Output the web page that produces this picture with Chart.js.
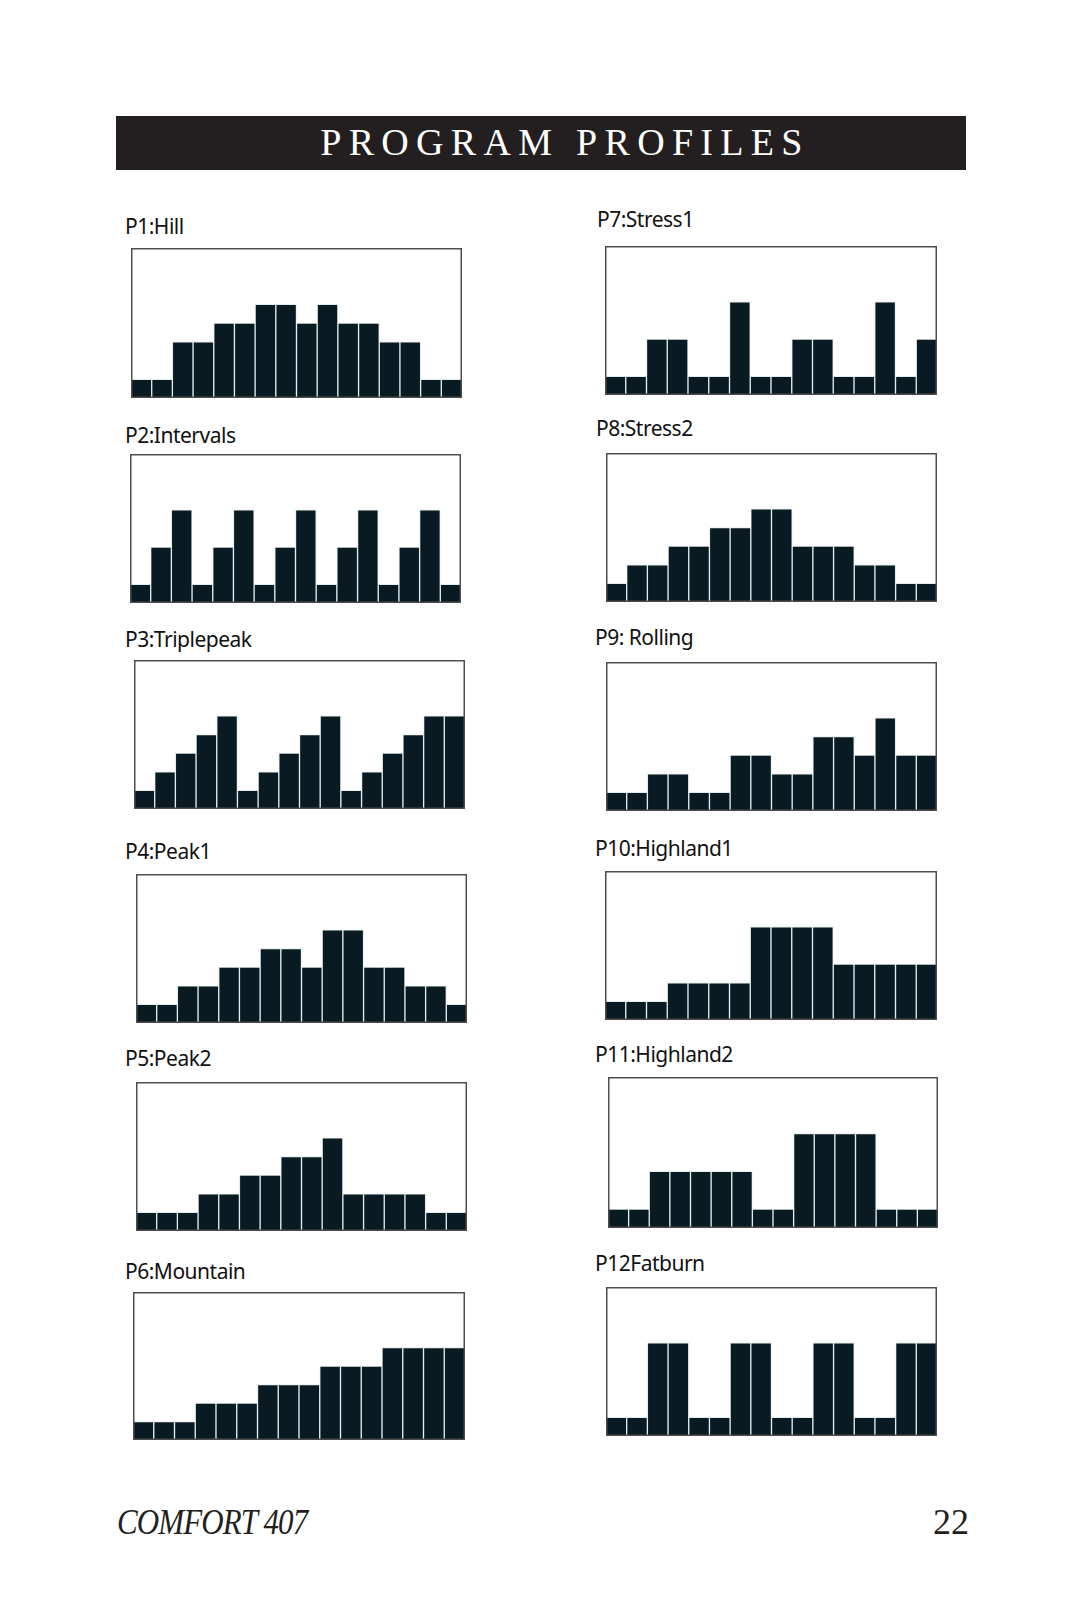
<!DOCTYPE html>
<html>
<head>
<meta charset="utf-8">
<script src="https://cdn.jsdelivr.net/npm/chart.js"></script>
<style>
  body { margin: 0; width: 1080px; height: 1622px; background: #fff; position: relative; overflow: hidden; }
  .banner { position: absolute; left: 116px; top: 116px; width: 850px; height: 54px; background: #231f20; }
  .banner span { position: absolute; left: 0; right: 0; top: 7px; text-align: center; padding-left: 48px;
    font-family: "Liberation Serif", serif; font-size: 38px; letter-spacing: 7.3px; color: #fff; line-height: 38px; }
  .lbl { position: absolute; font-family: "Noto Sans", sans-serif; font-size: 21px; color: #111;
    letter-spacing: -0.5px; line-height: 24px; white-space: nowrap; }
  .box { position: absolute; }
  .foot { position: absolute; top: 1502px; font-family: "Liberation Serif", serif; font-size: 36px; color: #231f20; line-height: 40px; }
</style>
</head>
<body>
<div class="banner"><span>PROGRAM PROFILES</span></div>
<div class="foot" style="left:117px; font-style:italic; letter-spacing:-1px; transform:scaleX(0.86); transform-origin:left top;">COMFORT 407</div>
<div class="foot" style="left:933px;">22</div>
<div id="page"></div>
<script>
// 16 segments per program, levels (frame height = 8 levels)
const segments = ['1','2','3','4','5','6','7','8','9','10','11','12','13','14','15','16']
const yMax = 8

const hill       = [1,1,3,3,4,4,5,5,4,5,4,4,3,3,1,1]
const intervals  = [1,3,5,1,3,5,1,3,5,1,3,5,1,3,5,1]
const triplePeak = [1,2,3,4,5,1,2,3,4,5,1,2,3,4,5,5]
const peak1      = [1,1,2,2,3,3,4,4,3,5,5,3,3,2,2,1]
const peak2      = [1,1,1,2,2,3,3,4,4,5,2,2,2,2,1,1]
const mountain   = [1,1,1,2,2,2,3,3,3,4,4,4,5,5,5,5]
const stress1    = [1,1,3,3,1,1,5,1,1,3,3,1,1,5,1,3]
const stress2    = [1,2,2,3,3,4,4,5,5,3,3,3,2,2,1,1]
const rolling    = [1,1,2,2,1,1,3,3,2,2,4,4,3,5,3,3]
const highland1  = [1,1,1,2,2,2,2,5,5,5,5,3,3,3,3,3]
const highland2  = [1,1,3,3,3,3,3,1,1,5,5,5,5,1,1,1]
const fatburn    = [1,1,5,5,1,1,5,5,1,1,5,5,1,1,5,5]

const programs = [
    { name: 'P1:Hill',        data: hill,       box: [131, 248, 331, 150], label: [125, 214] },
    { name: 'P2:Intervals',   data: intervals,  box: [130, 454, 331, 149], label: [125, 423] },
    { name: 'P3:Triplepeak',  data: triplePeak, box: [134, 660, 331, 149], label: [125, 627] },
    { name: 'P4:Peak1',       data: peak1,      box: [136, 874, 331, 149], label: [125, 839] },
    { name: 'P5:Peak2',       data: peak2,      box: [136, 1082, 331, 149], label: [125, 1046] },
    { name: 'P6:Mountain',    data: mountain,   box: [133, 1292, 332, 148], label: [125, 1259] },
    { name: 'P7:Stress1',     data: stress1,    box: [605, 246, 332, 149], label: [597, 207] },
    { name: 'P8:Stress2',     data: stress2,    box: [606, 453, 331, 149], label: [596, 416] },
    { name: 'P9: Rolling',    data: rolling,    box: [606, 662, 331, 149], label: [595, 625] },
    { name: 'P10:Highland1',  data: highland1,  box: [605, 871, 332, 149], label: [595, 836] },
    { name: 'P11:Highland2',  data: highland2,  box: [608, 1077, 330, 151], label: [595, 1042] },
    { name: 'P12Fatburn',     data: fatburn,    box: [606, 1287, 331, 149], label: [595, 1251] }
]

const framePlugin = {
    id: 'frame',
    afterDraw(chart) {
        const { ctx, chartArea } = chart
        ctx.save()
        ctx.strokeStyle = '#4d4d4d'
        ctx.lineWidth = 1.5
        ctx.strokeRect(chartArea.left + 0.75, chartArea.top + 0.75,
            chartArea.right - chartArea.left - 1.5, chartArea.bottom - chartArea.top - 1.5)
        ctx.restore()
    }
}

const page = document.getElementById('page')

programs.forEach((p) => {
    const lbl = document.createElement('div')
    lbl.className = 'lbl'
    lbl.style.left = p.label[0] + 'px'
    lbl.style.top = p.label[1] + 'px'
    lbl.textContent = p.name
    page.appendChild(lbl)

    const wrap = document.createElement('div')
    wrap.className = 'box'
    wrap.style.left = p.box[0] + 'px'
    wrap.style.top = p.box[1] + 'px'
    const canvas = document.createElement('canvas')
    canvas.width = p.box[2]
    canvas.height = p.box[3]
    wrap.appendChild(canvas)
    page.appendChild(wrap)

    new Chart(canvas, {
        type: 'bar',
        data: {
            labels: segments,
            datasets: [
                {
                    label: p.name,
                    data: p.data,
                    backgroundColor: '#0a1a22',
                    borderColor: '#e2ecec',
                    borderWidth: 1,
                    barPercentage: 1,
                    categoryPercentage: 1
                }
            ]
        },
        options: {
            responsive: false,
            animation: false,
            layout: { padding: 0 },
            plugins: {
                legend: { display: false },
                tooltip: { enabled: false }
            },
            scales: {
                x: { display: false },
                y: { display: false, min: 0, max: yMax }
            }
        },
        plugins: [framePlugin]
    })
})
</script>
</body>
</html>
